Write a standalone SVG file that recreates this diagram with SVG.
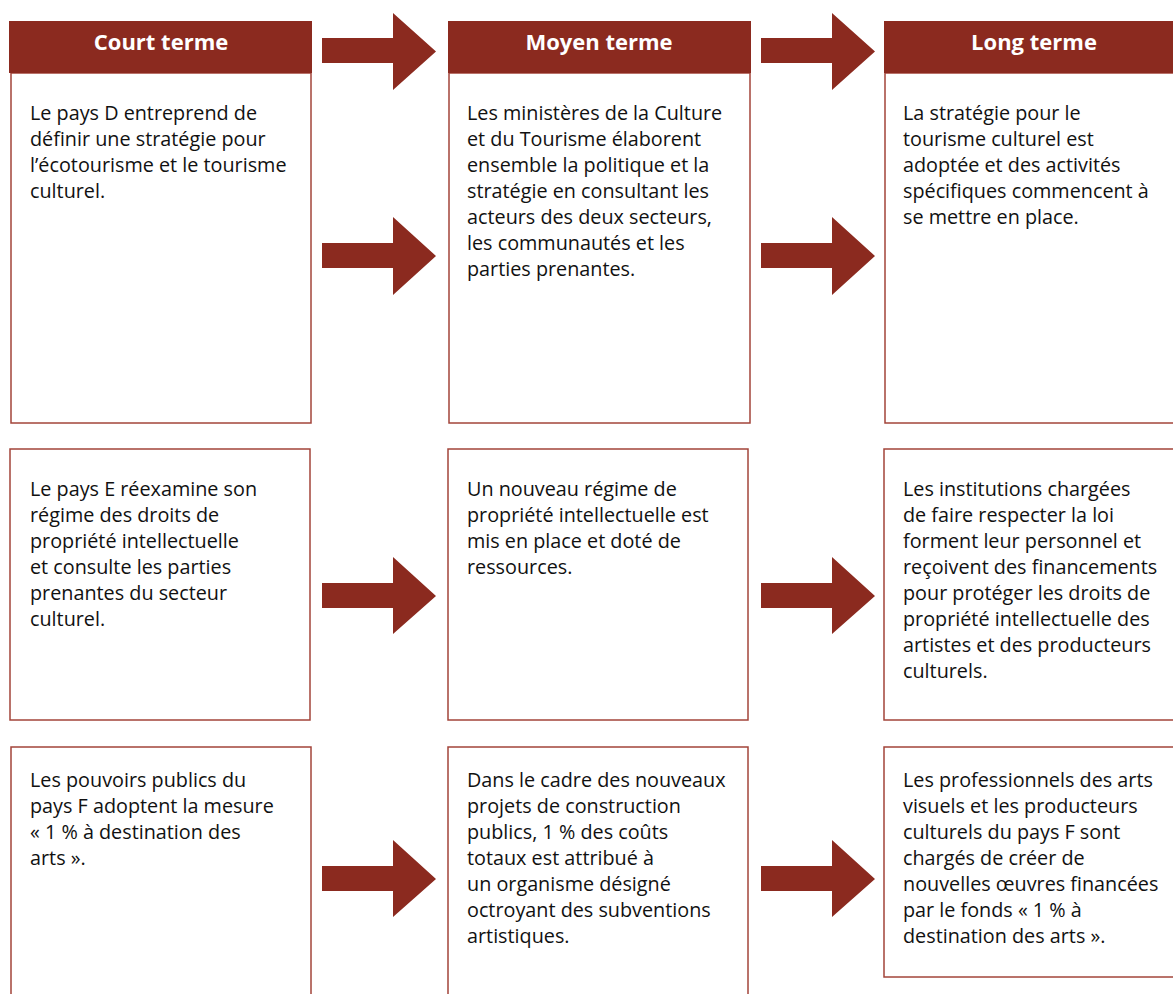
<svg xmlns="http://www.w3.org/2000/svg" width="1173" height="994" viewBox="0 0 1173 994">
<style>
.hdr{fill:#8B2A1F}
.box{fill:#fff;stroke:#A3443A;stroke-width:1.5}
.arr{fill:#8B2A1F}
.ht{font-family:"Open Sans",Lato,sans-serif;font-weight:bold;font-size:22px;fill:#fff;text-anchor:middle}
.t{font-family:"Open Sans",Lato,sans-serif;font-size:19.8px;fill:#111}
</style>
<rect width="1173" height="994" fill="#fff"/>
<g id="connectors">
<path class="arr" d="M322,38H393V13L436,51.5L393,90V63H322Z"/>
<path class="arr" d="M761,38H832V13L875,51.5L832,90V63H761Z"/>
<path class="arr" d="M322,243H393V217L436,256L393,295V268H322Z"/>
<path class="arr" d="M761,243H832V217L875,256L832,295V268H761Z"/>
<path class="arr" d="M322,583H393V557L436,596L393,634V608H322Z"/>
<path class="arr" d="M761,583H832V557L875,596L832,634V608H761Z"/>
<path class="arr" d="M322,866H393V840L436,879L393,917V891H322Z"/>
<path class="arr" d="M761,866H832V840L875,879L832,917V891H761Z"/>
</g>
<g id="court1">
<rect class="box" x="11" y="73" width="300" height="350"/>
<rect class="hdr" x="9" y="21" width="303" height="52"/>
<text class="ht" x="161" y="50">Court terme</text>
<text class="t" x="30" y="120">Le pays D entreprend de</text>
<text class="t" x="30" y="146">définir une stratégie pour</text>
<text class="t" x="30" y="172">l’écotourisme et le tourisme</text>
<text class="t" x="30" y="198">culturel.</text>
</g>
<g id="moyen1">
<rect class="box" x="449" y="73" width="301" height="350"/>
<rect class="hdr" x="448" y="21" width="303" height="52"/>
<text class="ht" x="599" y="50">Moyen terme</text>
<text class="t" x="467" y="120">Les ministères de la Culture</text>
<text class="t" x="467" y="146">et du Tourisme élaborent</text>
<text class="t" x="467" y="172">ensemble la politique et la</text>
<text class="t" x="467" y="198">stratégie en consultant les</text>
<text class="t" x="467" y="224">acteurs des deux secteurs,</text>
<text class="t" x="467" y="250">les communautés et les</text>
<text class="t" x="467" y="276">parties prenantes.</text>
</g>
<g id="long1">
<rect class="box" x="885" y="73" width="300" height="350"/>
<rect class="hdr" x="884" y="21" width="300" height="52"/>
<text class="ht" x="1034" y="50">Long terme</text>
<text class="t" x="903" y="120">La stratégie pour le</text>
<text class="t" x="903" y="146">tourisme culturel est</text>
<text class="t" x="903" y="172">adoptée et des activités</text>
<text class="t" x="903" y="198">spécifiques commencent à</text>
<text class="t" x="903" y="224">se mettre en place.</text>
</g>
<g id="court2">
<rect class="box" x="10" y="449" width="300" height="271"/>
<text class="t" x="30" y="496">Le pays E réexamine son</text>
<text class="t" x="30" y="522">régime des droits de</text>
<text class="t" x="30" y="548">propriété intellectuelle</text>
<text class="t" x="30" y="574">et consulte les parties</text>
<text class="t" x="30" y="600">prenantes du secteur</text>
<text class="t" x="30" y="626">culturel.</text>
</g>
<g id="moyen2">
<rect class="box" x="448" y="449" width="300" height="271"/>
<text class="t" x="467" y="496">Un nouveau régime de</text>
<text class="t" x="467" y="522">propriété intellectuelle est</text>
<text class="t" x="467" y="548">mis en place et doté de</text>
<text class="t" x="467" y="574">ressources.</text>
</g>
<g id="long2">
<rect class="box" x="884" y="449" width="300" height="271"/>
<text class="t" x="903" y="496">Les institutions chargées</text>
<text class="t" x="903" y="522">de faire respecter la loi</text>
<text class="t" x="903" y="548">forment leur personnel et</text>
<text class="t" x="903" y="574">reçoivent des financements</text>
<text class="t" x="903" y="600">pour protéger les droits de</text>
<text class="t" x="903" y="626">propriété intellectuelle des</text>
<text class="t" x="903" y="652">artistes et des producteurs</text>
<text class="t" x="903" y="678">culturels.</text>
</g>
<g id="court3">
<rect class="box" x="11" y="747" width="300" height="260"/>
<text class="t" x="30" y="787">Les pouvoirs publics du</text>
<text class="t" x="30" y="813">pays F adoptent la mesure</text>
<text class="t" x="30" y="839">« 1 % à destination des</text>
<text class="t" x="30" y="865">arts ».</text>
</g>
<g id="moyen3">
<rect class="box" x="448" y="747" width="300" height="260"/>
<text class="t" x="467" y="787">Dans le cadre des nouveaux</text>
<text class="t" x="467" y="813">projets de construction</text>
<text class="t" x="467" y="839">publics, 1 % des coûts</text>
<text class="t" x="467" y="865">totaux est attribué à</text>
<text class="t" x="467" y="891">un organisme désigné</text>
<text class="t" x="467" y="917">octroyant des subventions</text>
<text class="t" x="467" y="943">artistiques.</text>
</g>
<g id="long3">
<rect class="box" x="884" y="747" width="300" height="230"/>
<text class="t" x="903" y="787">Les professionnels des arts</text>
<text class="t" x="903" y="813">visuels et les producteurs</text>
<text class="t" x="903" y="839">culturels du pays F sont</text>
<text class="t" x="903" y="865">chargés de créer de</text>
<text class="t" x="903" y="891">nouvelles œuvres financées</text>
<text class="t" x="903" y="917">par le fonds « 1 % à</text>
<text class="t" x="903" y="943">destination des arts ».</text>
</g>
</svg>
